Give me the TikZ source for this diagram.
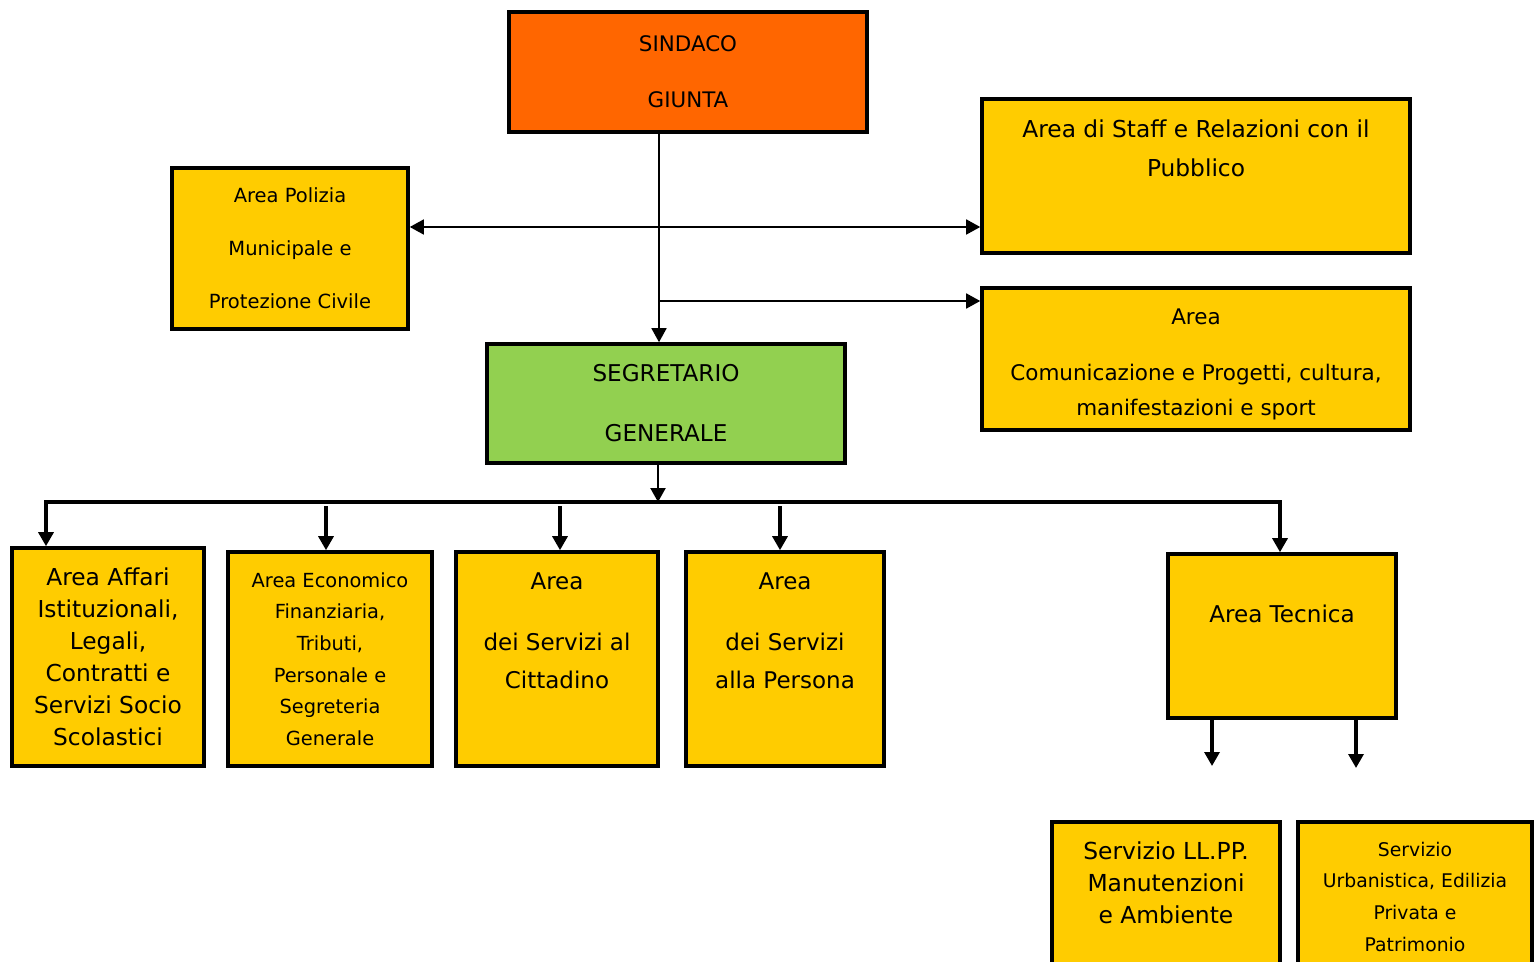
\documentclass[tikz,border=0pt]{standalone}
\usepackage{fontspec}
\setmainfont{DejaVu Sans}
\usepackage{xcolor}
\usetikzlibrary{arrows.meta}
\definecolor{sindacoorange}{HTML}{FF6600}
\definecolor{areayellow}{HTML}{FFCC00}
\definecolor{segrgreen}{HTML}{92D050}

\begin{document}
\begin{tikzpicture}[%
    x=0.5pt,
    y=-0.5pt,
    >={Triangle[length=7pt,width=7.5pt]},
    areabox/.style={%
      rectangle,
      draw,
      line width=1.8pt,
      fill=areayellow,
      align=center,
      inner sep=0pt
    },
    thinline/.style={line width=0.8pt},
    midline/.style={line width=1.1pt},
    busline/.style={line width=1.6pt}
  ]
    \useasboundingbox[fill=white] (0,0) rectangle (1534,962);
    \clip (0,0) rectangle (1534,962);

    \node[areabox, fill=sindacoorange, minimum width=179pt, minimum height=60pt,
          font={\fontsize{10.7}{28}\selectfont}] (sindaco) at (688,72)        {SINDACO\\GIUNTA};
    \node[areabox, minimum width=214pt, minimum height=77pt, text depth=28pt,
          font={\fontsize{11.65}{19.5}\selectfont}] (staff) at (1196,176)    {Area di Staff e Relazioni con il\\Pubblico};
    \node[areabox, minimum width=118pt, minimum height=80.5pt,
          font={\fontsize{9.75}{26.5}\selectfont}] (polizia) at (290,248.5)  {Area Polizia\\Municipale e\\Protezione Civile};
    \node[areabox, minimum width=214pt, minimum height=71pt, text height=59pt,
          font={\fontsize{10.75}{17.5}\selectfont}] (comunic) at (1196,359)  {Area\\[10.5pt]Comunicazione e Progetti, cultura,\\manifestazioni e sport};
    \node[areabox, fill=segrgreen, minimum width=179pt, minimum height=59.5pt,
          font={\fontsize{11.55}{30}\selectfont}] (segretario) at (666,403.5) {SEGRETARIO\\GENERALE};

    \node[areabox, minimum width=96pt, minimum height=109pt,
          font={\fontsize{11.65}{16}\selectfont}] (affari) at (108,657)      {Area Affari\\Istituzionali,\\Legali,\\Contratti e\\Servizi Socio\\Scolastici};
    \node[areabox, minimum width=102pt, minimum height=107pt,
          font={\fontsize{9.7}{15.8}\selectfont}] (economico) at (330,659)   {Area Economico\\Finanziaria,\\Tributi,\\Personale e\\Segreteria\\Generale};
    \node[areabox, minimum width=101pt, minimum height=107pt, text depth=28pt,
          font={\fontsize{11.5}{19}\selectfont}] (cittadino) at (557,659)    {Area\\[11.5pt]dei Servizi al\\Cittadino};
    \node[areabox, minimum width=99pt, minimum height=107pt, text depth=28pt,
          font={\fontsize{11.5}{19}\selectfont}] (persona) at (785,659)      {Area\\[11.5pt]dei Servizi\\alla Persona};
    \node[areabox, minimum width=114pt, minimum height=82pt, text depth=22.5pt,
          font={\fontsize{11.55}{19}\selectfont}] (tecnica) at (1282,636)    {Area Tecnica};
    \node[areabox, minimum width=114pt, minimum height=109pt, text depth=48.5pt,
          font={\fontsize{11.7}{16}\selectfont}] (llpp) at (1166,931)        {Servizio LL.PP.\\Manutenzioni\\e Ambiente};
    \node[areabox, minimum width=117pt, minimum height=109pt, text depth=34.5pt,
          font={\fontsize{9.4}{15.85}\selectfont}] (urban) at (1415,931)     {Servizio\\Urbanistica, Edilizia\\Privata e\\Patrimonio};

    \coordinate (hline)   at (659,227);
    \coordinate (branch)  at (659,301);
    \coordinate (bus)     at (658,502);
    \coordinate (llppin)  at (1212,766);
    \coordinate (urbanin) at (1356,768);

    \draw[thinline,->] ([xshift=-3.5pt]segretario.north |- sindaco.south) -- ([xshift=-3.5pt]segretario.north);
    \draw[thinline,<->] (hline -| polizia.east) -- (hline -| staff.west);
    \draw[thinline,->] (branch) -- (branch -| comunic.west);
    \draw[midline,->] ([xshift=-4pt]segretario.south) -- (bus);

    \draw[busline,<->] ([xshift=-31pt]affari.north) |- (bus) -| ([xshift=-1pt]tecnica.north);
    \foreach \n/\dx in {economico/-2pt, cittadino/1.5pt, persona/-2.5pt}
      \draw[busline,->,shorten <=2pt] ([xshift=\dx]\n.north |- bus) -- ([xshift=\dx]\n.north);

    \draw[busline,->] (tecnica.south -| llppin) -- (llppin);
    \draw[busline,->] (tecnica.south -| urbanin) -- (urbanin);
  \end{tikzpicture}
\end{document}
